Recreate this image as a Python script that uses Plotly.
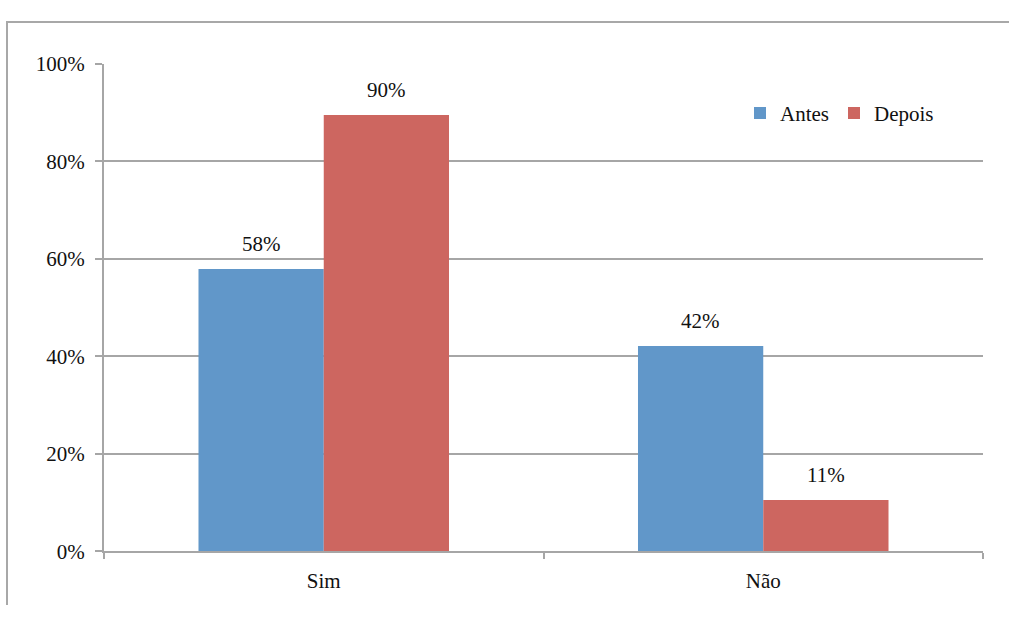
import plotly.graph_objects as go

# Survey answers before and after (share of respondents)
categories = ["Sim", "Não"]
antes = [0.579, 0.421]
depois = [0.8951, 0.1051]
y_ticks = [0, 0.2, 0.4, 0.6, 0.8, 1.0]

BLUE = "#6197C9"
RED = "#CD6660"
GRID = "#A6A6A6"
FRAME = "#A8A8A8"
FONT = "Liberation Serif"
FS = 21

W, H = 1009, 617
# plot area in pixels
PX0, PX1 = 104, 983
PY0, PY1 = 54, 561


def fx(x):
    return x / W


def fy(y):
    return 1 - y / H


series = [("Antes", antes, BLUE, -1), ("Depois", depois, RED, 1)]

fig = go.Figure()
annotations = []
bar_px = 125  # width of one bar in pixels
for name, vals, color, side in series:
    fig.add_trace(go.Bar(
        x=categories, y=vals, name=name,
        marker=dict(color=color, line=dict(width=0)),
    ))
    # value labels floating above each bar
    for cat, v in zip(categories, vals):
        annotations.append(dict(
            x=cat, y=v, xref="x", yref="y", text=f"{v:.0%}", showarrow=False,
            xshift=side * bar_px / 2, yshift=25, yanchor="middle",
            font=dict(family=FONT, size=FS, color="#111111"),
        ))

# empty subplot whose axis lines form the outer frame (top and left edges)
fig.add_trace(go.Scatter(x=[], y=[], xaxis="x2", yaxis="y2",
                         showlegend=False, hoverinfo="skip"))

fig.update_layout(
    width=W, height=H,
    margin=dict(l=0, r=0, t=0, b=0),
    paper_bgcolor="white", plot_bgcolor="rgba(0,0,0,0)",
    barmode="group", bargap=0.43, bargroupgap=0,
    font=dict(family=FONT, size=FS, color="#111111"),
    showlegend=True,
    legend=dict(
        orientation="h", x=fx(740), y=fy(84), xanchor="left", yanchor="top",
        font=dict(family=FONT, size=FS), bgcolor="rgba(0,0,0,0)",
        tracegroupgap=0,
    ),
    xaxis=dict(
        domain=[fx(PX0), fx(PX1)], anchor="y",
        showline=True, linecolor=GRID, linewidth=2,
        ticks="outside", tickson="boundaries", ticklen=6, tickcolor=GRID, tickwidth=2,
        showgrid=False, tickfont=dict(family=FONT, size=FS),
        ticklabelstandoff=10, fixedrange=True,
    ),
    yaxis=dict(
        domain=[fy(PY1), fy(PY0)], anchor="x",
        range=[0, 1], tickvals=y_ticks, tickformat=".0%",
        showline=True, linecolor=GRID, linewidth=2,
        ticks="outside", ticklen=7, tickcolor=GRID, tickwidth=2,
        showgrid=True, gridcolor=GRID, gridwidth=2, zeroline=False,
        tickfont=dict(family=FONT, size=FS),
        ticklabelstandoff=6, fixedrange=True,
    ),
    xaxis2=dict(
        domain=[fx(8), 1], anchor="y2", side="top", range=[0, 1],
        showline=True, linecolor=FRAME, linewidth=2,
        showgrid=False, zeroline=False, showticklabels=False, ticks="",
        fixedrange=True,
    ),
    yaxis2=dict(
        domain=[0, fy(11)], anchor="x2", side="left", range=[0, 1],
        showline=True, linecolor=FRAME, linewidth=2,
        showgrid=False, zeroline=False, showticklabels=False, ticks="",
        fixedrange=True,
    ),
    annotations=annotations,
)

fig.write_html("out.html", config={"displayModeBar": False})
